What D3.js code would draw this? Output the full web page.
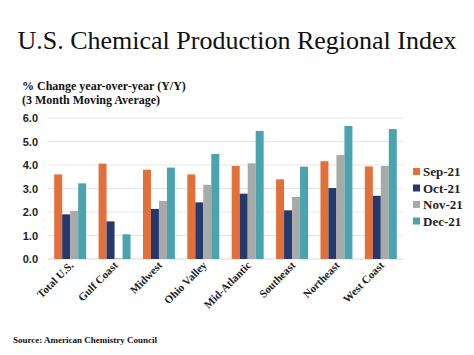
<!DOCTYPE html>
<html><head><meta charset="utf-8">
<script src="https://cdn.jsdelivr.net/npm/d3@7"></script>
<style>body{margin:0;background:#fff}svg{display:block}</style>
</head><body><svg id="c" width="474" height="355"></svg>
<script>
const regions = ["Total U.S.","Gulf Coast","Midwest","Ohio Valley","Mid-Atlantic","Southeast","Northeast","West Coast"];
const seriesNames = ["Sep-21","Oct-21","Nov-21","Dec-21"];
const sep21 = [3.60,4.06,3.80,3.60,3.96,3.39,4.16,3.94];
const oct21 = [1.90,1.60,2.13,2.41,2.78,2.07,3.02,2.69];
const nov21 = [2.05,0.03,2.47,3.16,4.07,2.64,4.43,3.96];
const dec21 = [3.22,1.05,3.89,4.47,5.45,3.93,5.66,5.53];
const yTicks = [0,1,2,3,4,5,6];
const colors = ["#E2703A","#253A6B","#A6ABA9","#4BA3AE"];
const seriesValues = [sep21,oct21,nov21,dec21];

const svg = d3.select("#c");
const x0 = d3.scaleBand().domain(regions).range([48,403]).paddingInner(0.28).paddingOuter(0.14);
const x1 = d3.scaleBand().domain(seriesNames).range([0,x0.bandwidth()]);
const y = d3.scaleLinear().domain([0,6]).range([259,118]);

svg.append("text").attr("x",237).attr("y",49).attr("text-anchor","middle")
  .attr("font-family","Liberation Serif").attr("font-size",26).attr("fill","#111")
  .text("U.S. Chemical Production Regional Index");
svg.append("text").attr("x",22).attr("y",90).attr("font-family","Liberation Serif")
  .attr("font-weight","bold").attr("font-size",12).attr("fill","#111").text("% Change year-over-year (Y/Y)");
svg.append("text").attr("x",22).attr("y",104).attr("font-family","Liberation Serif")
  .attr("font-weight","bold").attr("font-size",12).attr("fill","#111").text("(3 Month Moving Average)");

// gridlines
svg.append("g").selectAll("line").data(yTicks).join("line")
  .attr("x1",48).attr("x2",403).attr("y1",d=>y(d)).attr("y2",d=>y(d))
  .attr("stroke",d=>d===0?"#d8d8d8":"#e6e6e6").attr("stroke-width",1);

const yAxis = svg.append("g").attr("transform","translate(40,0)")
  .call(d3.axisLeft(y).tickValues(yTicks).tickFormat(d3.format(".1f")).tickSize(0).tickPadding(2));
yAxis.select(".domain").remove();
yAxis.selectAll("text").attr("font-family","Liberation Sans").attr("font-weight","bold")
  .attr("font-size",11).attr("fill","#222");

// bars
const groups = svg.append("g").selectAll("g").data(regions).join("g")
  .attr("transform",d=>`translate(${x0(d)},0)`);
groups.selectAll("rect").data((d,i)=>seriesNames.map((s,j)=>({s,v:seriesValues[j][i],j})))
  .join("rect").attr("x",d=>x1(d.s)).attr("width",x1.bandwidth())
  .attr("y",d=>y(d.v)).attr("height",d=>y(0)-y(d.v)).attr("fill",d=>colors[d.j]);

// x labels
svg.append("g").selectAll("text").data(regions).join("text")
  .attr("transform",d=>`translate(${x0(d)+x0.bandwidth()/2+4},266) rotate(-45)`)
  .attr("text-anchor","end").attr("font-family","Liberation Serif").attr("font-weight","bold")
  .attr("font-size",11).attr("fill","#222").text(d=>d);

// legend
const lg = svg.append("g").selectAll("g").data(seriesNames).join("g")
  .attr("transform",(d,i)=>`translate(413,${172+i*16.5})`);
lg.append("rect").attr("x",0).attr("y",-4).attr("width",7).attr("height",7).attr("fill",(d,i)=>colors[i]);
lg.append("text").attr("x",10).attr("y",4).attr("font-family","Liberation Serif").attr("font-weight","bold")
  .attr("font-size",13).attr("fill","#222").text(d=>d);

svg.append("text").attr("x",13).attr("y",343).attr("font-family","Liberation Serif")
  .attr("font-weight","bold").attr("font-size",9).attr("fill","#111").text("Source: American Chemistry Council");
</script></body></html>
